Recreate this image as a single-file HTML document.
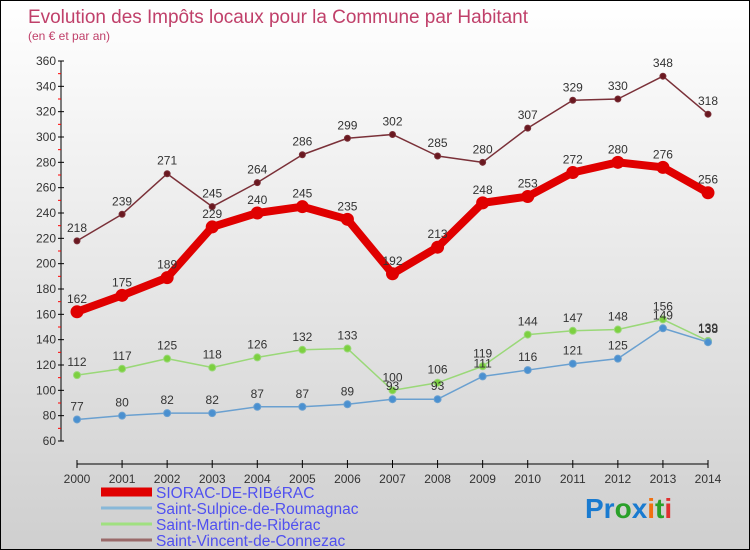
<!DOCTYPE html>
<html><head><meta charset="utf-8"><style>
body{margin:0}
#c{width:748px;height:548px;border:1px solid #000;background:linear-gradient(#fff,#cfcfcf);position:relative;overflow:hidden;font-family:"Liberation Sans",sans-serif}
svg{position:absolute;left:0;top:0}
</style></head><body>
<div id="c">
<svg id="s" width="750" height="550">
<text x="27" y="22" font-size="19" fill="#c0406a" textLength="500">Evolution des Impôts locaux pour la Commune par Habitant</text>
<text x="27" y="39" font-size="12" fill="#c0406a">(en € et par an)</text>
<text x="584" y="517" font-size="28" font-weight="bold"><tspan fill="#1a7bd0">Pr</tspan><tspan fill="#2aa02a">o</tspan><tspan fill="#1a7bd0">x</tspan><tspan fill="#f07010">i</tspan><tspan fill="#2aa02a">t</tspan><tspan fill="#e03030">i</tspan></text>
</svg>
</div>
<script>
const years=["2000","2001","2002","2003","2004","2005","2006","2007","2008","2009","2010","2011","2012","2013","2014"];
const yTicks=[60,80,100,120,140,160,180,200,220,240,260,280,300,320,340,360];
const sioracValues=[162,175,189,229,240,245,235,192,213,248,253,272,280,276,256];
const sulpiceValues=[77,80,82,82,87,87,89,93,93,111,116,121,125,149,138];
const martinValues=[112,117,125,118,126,132,133,100,106,119,144,147,148,156,139];
const vincentValues=[218,239,271,245,264,286,299,302,285,280,307,329,330,348,318];
const seriesNames=["SIORAC-DE-RIBéRAC","Saint-Sulpice-de-Roumagnac","Saint-Martin-de-Ribérac","Saint-Vincent-de-Connezac"];
const NS="http://www.w3.org/2000/svg",s=document.getElementById('s');
const X=i=>76+i*(707-76)/14, Y=v=>440-(v-60)*380/300;
function el(t,a,p){const e=document.createElementNS(NS,t);for(const k in a)e.setAttribute(k,a[k]);(p||s).appendChild(e);return e;}
let ya=el('line',{x1:60,y1:60,x2:60,y2:440,stroke:'#000'});


yTicks.forEach(v=>{
 el('line',{x1:57,x2:63,y1:Y(v),y2:Y(v),stroke:'#000'});
 if(v<360) el('line',{x1:57,x2:60,y1:Y(v+10),y2:Y(v+10),stroke:'#f00'});
 const t=el('text',{x:55,y:Y(v)+4,'font-size':12,fill:'#333','text-anchor':'end'});t.textContent=v;
 
 
});
let xa=el('line',{x1:76,y1:463,x2:707,y2:463,stroke:'#000'});


years.forEach((y,i)=>{
 el('line',{x1:X(i),x2:X(i),y1:459,y2:467,stroke:'#000'});
 const t=el('text',{x:X(i),y:482,'font-size':12,fill:'#333','text-anchor':'middle'});t.textContent=y;
 
 
});
function series(vals,color,w,r,dot,name){
 const g=el('g',{});
 
 
 el('polyline',{points:vals.map((v,i)=>X(i)+','+Y(v)).join(' '),fill:'none',stroke:color,'stroke-width':w,'stroke-linejoin':'round'},g);
 vals.forEach((v,i)=>{
  const c=el('circle',{cx:X(i),cy:Y(v),r:r,fill:dot,stroke:color,'stroke-width':1},g);
  
  
  const t=el('text',{x:X(i),y:Y(v)-9,'font-size':12,fill:'#333','text-anchor':'middle'},g);t.textContent=v;
  
  
 });
}
series(vincentValues,'#7a3038',1.5,3,'#6a1820','vincent-series');
series(martinValues,'#9ad878',1.5,3.5,'#7cd040','martin-series');
series(sulpiceValues,'#6aa0d0',1.5,3.5,'#4a90d0','sulpice-series');
series(sioracValues,'#e00000',8,6,'#e00000','siorac-series');
const lc=['#e00000','#88b8d8','#a0e080','#9a6a6a'],lw=[9,3,3,3];
seriesNames.forEach((n,i)=>{
 const yy=491+i*16;
 const l=el('line',{x1:100,x2:151,y1:yy,y2:yy,stroke:lc[i],'stroke-width':lw[i]});
 
 
 const t=el('text',{x:155,y:yy+6,'font-size':15.5,fill:'#5050f0'});t.textContent=n;
 
 
});
</script>
</body></html>
